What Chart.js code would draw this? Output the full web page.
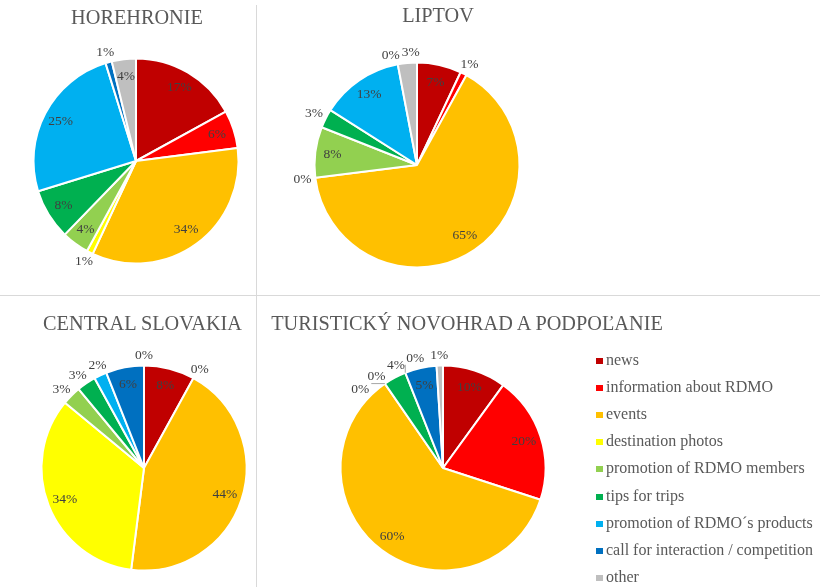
<!DOCTYPE html>
<html>
<head>
<meta charset="utf-8">
<title>RDMO posts by topic</title>
<script src="https://cdn.jsdelivr.net/npm/chart.js@4"></script>
<style>
    body {
        margin: 0;
        width: 820px;
        height: 587px;
        overflow: hidden;
        position: relative;
        background: #fff;
        font-family: "Liberation Serif", "Times New Roman", serif;
    }
    .title {
        position: absolute;
        color: #595959;
        font-size: 20.3px;
        white-space: nowrap;
        transform: translate(-50%, -50%);
    }
    canvas { position: absolute; }
    .vline { position: absolute; left: 256px; top: 5px; width: 1px; height: 582px; background: #d9d9d9; }
    .hline { position: absolute; left: 0; top: 295px; width: 820px; height: 1px; background: #d9d9d9; }
    .legend-item {
        position: absolute;
        left: 596px;
        height: 20px;
        line-height: 20px;
        font-size: 16px;
        color: #595959;
        white-space: nowrap;
    }
    .legend-item span {
        display: inline-block;
        width: 7px;
        height: 6px;
        margin-right: 3px;
        vertical-align: 1px;
    }
</style>
</head>
<body>
<div class="vline"></div>
<div class="hline"></div>

<script>
// Topic categories and their colours (shared by all four pies)
const categories = [
    'news',
    'information about RDMO',
    'events',
    'destination photos',
    'promotion of RDMO members',
    'tips for trips',
    'promotion of  RDMO´s products',
    'call for interaction / competition',
    'other'
];

const topicColors = [
    '#C00000', // news
    '#FF0000', // information about RDMO
    '#FFC000', // events
    '#FFFF00', // destination photos
    '#92D050', // promotion of RDMO members
    '#00B050', // tips for trips
    '#00B0F0', // promotion of RDMO's products
    '#0070C0', // call for interaction
    '#BFBFBF'  // other
];

// Share of posts per topic (%)
const horehronieValues = [17, 6, 34, 1, 4.3, 8, 25, 1, 3.8];
const liptovValues = [7, 1, 65, 0, 8, 3, 13, 0, 3];
const centralSlovakiaValues = [8, 0, 44, 34, 3, 3, 2, 6, 0];
const novohradValues = [10, 20, 60.4, 0, 0, 3.6, 0, 5, 1];

const regionTitles = [
    'HOREHRONIE',
    'LIPTOV',
    'CENTRAL SLOVAKIA',
    'TURISTICKÝ NOVOHRAD A PODPOĽANIE'
];

// Labels for slices smaller than this go outside the pie
const INSIDE_MIN = 3.7;
const LABEL_FONT = '13.5px "Liberation Serif"';

function labelBox(l) {
    const c = Math.cos(l.a), s = Math.sin(l.a);
    const cx = l.x + c * (l.r + 3) + c * (l.w / 2 + 1);
    const cy = l.y + s * (l.r + 3) + s * (l.h / 2 + 1);
    return { cx, cy, x0: cx - l.w / 2, x1: cx + l.w / 2, y0: cy - l.h / 2, y1: cy + l.h / 2 };
}

function boxesOverlap(a, b) {
    const pad = 1;
    return a.x0 < b.x1 + pad && b.x0 < a.x1 + pad && a.y0 < b.y1 + pad && b.y0 < a.y1 + pad;
}

// push overlapping outside labels apart along the circle
function spreadLabels(labels) {
    labels.sort((p, q) => p.a - q.a);
    const step = 0.005;
    for (let iter = 0; iter < 600; iter++) {
        let moved = false;
        for (let i = 0; i < labels.length; i++) {
            for (let j = i + 1; j < labels.length; j++) {
                if (boxesOverlap(labelBox(labels[i]), labelBox(labels[j]))) {
                    labels[i].a -= step;
                    labels[j].a += step;
                    moved = true;
                }
            }
        }
        if (!moved) break;
    }
}

const percentLabels = {
    id: 'percentLabels',
    afterDatasetsDraw(chart) {
        const ctx = chart.ctx;
        const meta = chart.getDatasetMeta(0);
        const values = chart.data.datasets[0].data;
        const total = values.reduce((sum, v) => sum + v, 0);
        const outside = [];

        ctx.save();
        ctx.font = LABEL_FONT;
        ctx.fillStyle = '#404040';
        ctx.textAlign = 'center';
        ctx.textBaseline = 'middle';

        meta.data.forEach((arc, i) => {
            const p = arc.getProps(['x', 'y', 'startAngle', 'endAngle', 'outerRadius'], true);
            const text = Math.round(values[i] / total * 100) + '%';
            const mid = (p.startAngle + p.endAngle) / 2;
            if (values[i] >= INSIDE_MIN) {
                const rr = p.outerRadius * 0.83;
                ctx.fillText(text, p.x + Math.cos(mid) * rr, p.y + Math.sin(mid) * rr);
            } else {
                outside.push({ text, a0: mid, a: mid, w: ctx.measureText(text).width, h: 12, x: p.x, y: p.y, r: p.outerRadius });
            }
        });

        spreadLabels(outside);

        outside.forEach(l => {
            const b = labelBox(l);
            if (Math.abs(l.a - l.a0) > 0.07) {
                const ex = l.x + Math.cos(l.a0) * l.r;
                const ey = l.y + Math.sin(l.a0) * l.r;
                const tx = Math.min(Math.max(ex, b.x0 - 2), b.x1 + 2);
                const ty = Math.min(Math.max(ey, b.y0), b.y1);
                ctx.strokeStyle = '#a6a6a6';
                ctx.lineWidth = 1;
                ctx.beginPath();
                ctx.moveTo(ex, ey);
                ctx.lineTo(tx, ty);
                ctx.stroke();
            }
            ctx.fillText(l.text, b.cx, b.cy);
        });
        ctx.restore();
    }
};

/**
 * Create one region pie on its own canvas
 * @param {number} cx - pie centre x on the page
 * @param {number} cy - pie centre y on the page
 * @param {Array} values - topic shares
 */
function createRegionPie(cx, cy, values) {
    const size = 320;
    const radius = 103.5;
    const canvas = document.createElement('canvas');
    canvas.width = size;
    canvas.height = size;
    canvas.style.left = (cx - size / 2) + 'px';
    canvas.style.top = (cy - size / 2) + 'px';
    document.body.appendChild(canvas);

    return new Chart(canvas, {
        type: 'pie',
        data: {
            labels: categories,
            datasets: [{
                data: values,
                backgroundColor: topicColors,
                borderColor: '#fff',
                borderWidth: 2
            }]
        },
        options: {
            responsive: false,
            animation: false,
            layout: { padding: size / 2 - radius },
            plugins: {
                legend: { display: false },
                tooltip: { enabled: false }
            }
        },
        plugins: [percentLabels]
    });
}

function addTitle(text, x, y) {
    const div = document.createElement('div');
    div.className = 'title';
    div.style.left = x + 'px';
    div.style.top = y + 'px';
    div.textContent = text;
    document.body.appendChild(div);
}

function buildLegend() {
    categories.forEach((name, i) => {
        const item = document.createElement('div');
        item.className = 'legend-item';
        item.style.top = (350 + i * 27.1) + 'px';
        const box = document.createElement('span');
        box.style.background = topicColors[i];
        item.appendChild(box);
        item.appendChild(document.createTextNode(name));
        document.body.appendChild(item);
    });
}

createRegionPie(135.5, 161, horehronieValues);
createRegionPie(416.5, 165, liptovValues);
createRegionPie(143.5, 468, centralSlovakiaValues);
createRegionPie(442.5, 468, novohradValues);

addTitle(regionTitles[0], 137, 17);
addTitle(regionTitles[1], 438, 15);
addTitle(regionTitles[2], 142.5, 323);
addTitle(regionTitles[3], 467, 323);

buildLegend();
</script>
</body>
</html>
